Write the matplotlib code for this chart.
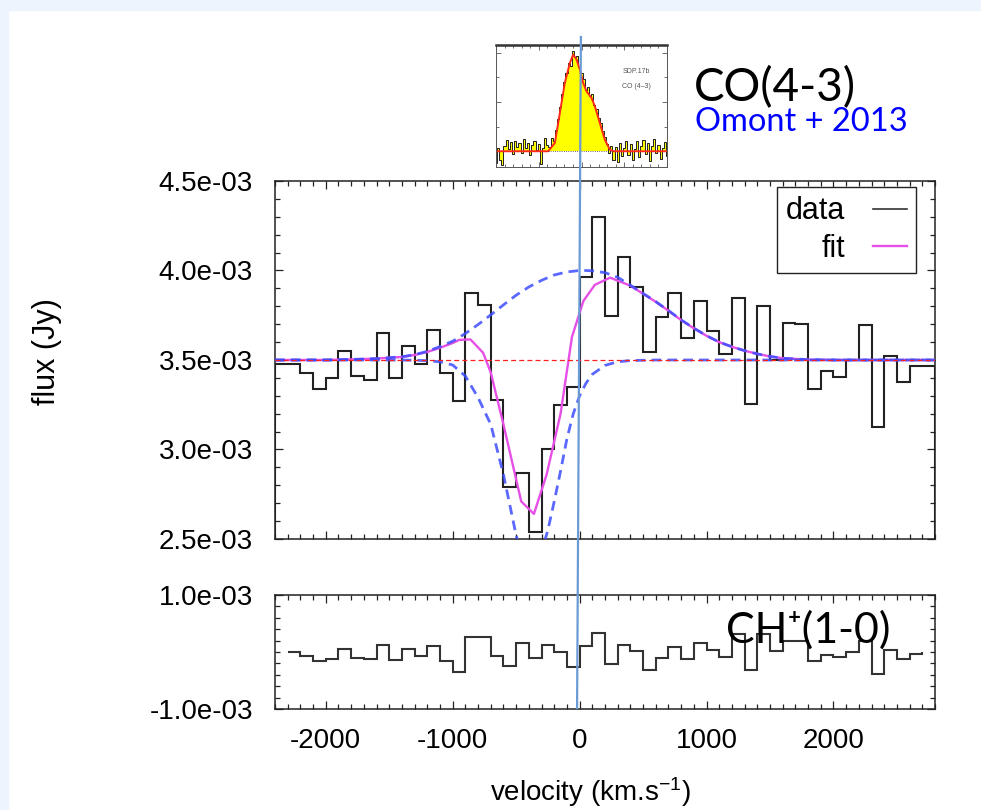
import numpy as np
import matplotlib
matplotlib.use("Agg")
import matplotlib.pyplot as plt
from matplotlib.lines import Line2D
from matplotlib.patches import Rectangle
from matplotlib.ticker import MultipleLocator, FixedLocator, FuncFormatter

plt.rcParams['font.family'] = ['Liberation Sans', 'DejaVu Sans']
plt.rcParams['mathtext.default'] = 'regular'
plt.rcParams['axes.unicode_minus'] = False

W, H = 981, 810

# channel grid (km/s)
chan_width = 100
top_start, top_stop = -2400, 2800
bot_start, bot_stop = -2300, 2700

# flux in units of 1e-3 Jy, one value per 100 km/s channel
top_flux = [3.48, 3.48, 3.43, 3.34, 3.40, 3.55, 3.41, 3.39, 3.65, 3.40,
            3.58, 3.48, 3.67, 3.43, 3.27, 3.875, 3.805, 3.275, 2.79, 2.87,
            2.54, 3.00, 3.25, 3.35, 3.965, 4.30, 3.747, 4.077, 3.908, 3.543,
            3.743, 3.875, 3.622, 3.828, 3.663, 3.532, 3.847, 3.253, 3.80, 3.50,
            3.706, 3.70, 3.337, 3.436, 3.404, 3.50, 3.693, 3.124, 3.521, 3.376,
            3.468, 3.468]
bot_flux = [0.0, -0.07, -0.165, -0.118, 0.059, -0.10, -0.124, 0.129, -0.147, 0.059,
            -0.07, 0.10, -0.159, -0.359, 0.265, 0.265, -0.07, -0.247, 0.159, -0.10,
            0.129, 0.006, -0.265, 0.10, 0.341, -0.218, 0.118, 0.018, -0.312, -0.10,
            0.088, -0.118, 0.159, 0.029, -0.088, 0.324, -0.312, 0.32, 0.012, 0.194,
            0.194, -0.159, -0.059, -0.088, 0.0, 0.194, -0.382, 0.029, -0.118, -0.041]

continuum = 3.5

# model components
em_vel = [-2400, -2000, -1800, -1600, -1400, -1300, -1200, -1100, -1000, -900,
          -800, -700, -600, -500, -400, -300, -200, -100, 0, 50,
          100, 200, 300, 400, 500, 600, 700, 800, 900, 1000,
          1100, 1200, 1300, 1400, 1500, 1600, 1800, 2000, 2800]
em_flux = [3.500, 3.500, 3.503, 3.508, 3.518, 3.530, 3.548, 3.575, 3.605, 3.648,
           3.698, 3.752, 3.808, 3.862, 3.908, 3.945, 3.975, 3.992, 4.000, 4.000,
           3.998, 3.988, 3.962, 3.918, 3.872, 3.826, 3.776, 3.724, 3.678, 3.636,
           3.600, 3.574, 3.552, 3.534, 3.520, 3.510, 3.502, 3.500, 3.500]

abs_vel = [-2400, -1500, -1300, -1200, -1100, -1000, -900, -800, -700, -600,
           -500, -450, -400, -375, -350, -300, -250, -200, -150, -100,
           -50, 0, 50, 100, 200, 300, 400, 600, 2800]
abs_flux = [3.500, 3.500, 3.499, 3.496, 3.490, 3.472, 3.41, 3.29, 3.14, 2.86,
            2.52, 2.40, 2.36, 2.35, 2.36, 2.43, 2.55, 2.71, 2.88, 3.06,
            3.20, 3.30, 3.37, 3.42, 3.47, 3.49, 3.497, 3.500, 3.500]

fit_vel = [-2400, -2000, -1800, -1600, -1400, -1300, -1200, -1100, -1000, -950,
           -860, -760, -700, -600, -460, -360, -260, -150, -60, 30,
           120, 240, 400, 500, 600, 700, 800, 900, 1000, 1100,
           1200, 1300, 1400, 1500, 1600, 1800, 2000, 2800]
fit_flux = [3.500, 3.500, 3.503, 3.508, 3.517, 3.528, 3.545, 3.568, 3.595, 3.612,
            3.615, 3.54, 3.43, 3.14, 2.71, 2.64, 2.86, 3.20, 3.63, 3.83,
            3.92, 3.96, 3.915, 3.870, 3.825, 3.775, 3.723, 3.677, 3.635, 3.600,
            3.574, 3.552, 3.534, 3.520, 3.510, 3.502, 3.500, 3.500]

# inset: CO(4-3) from Omont et al. 2013 (arbitrary flux units)
inset_vel_step = 25
inset_flux = [-0.12, 0.03, -0.09, -0.14, 0.05, 0.11, 0.02, 0.09, -0.03, 0.10,
              0.04, 0.08, -0.02, 0.12, 0.03, 0.08, -0.04, 0.06, 0.10, 0.01,
              0.07, -0.13, 0.03, 0.13, 0.06, 0.04, 0.13, 0.10, 0.22, 0.33,
              0.45, 0.58, 0.70, 0.80, 0.90, 0.87, 1.02, 0.96, 0.97, 0.86,
              0.80, 0.73, 0.62, 0.65, 0.56, 0.58, 0.47, 0.43, 0.34, 0.29,
              0.21, 0.14, 0.07, -0.02, 0.05, -0.09, 0.04, -0.11, 0.08, -0.05,
              0.03, 0.10, -0.04, 0.07, -0.09, 0.02, 0.10, -0.06, 0.05, 0.11,
              -0.03, 0.08, -0.10, 0.05, 0.12, -0.02, 0.06, -0.08, 0.03, 0.09,
              -0.05]
inset_fit_vel = [-1000, -389, -311, -253, -195, -136, -97, -58, -19, 19,
                 58, 117, 156, 214, 272, 331, 370, 1000]
inset_fit_flux = [0.0, 0.0, 0.085, 0.39, 0.695, 0.898, 0.983, 0.932, 0.83, 0.695,
                  0.61, 0.542, 0.458, 0.288, 0.119, 0.017, 0.0, 0.0]

marker_vel_top, marker_vel_bot = 10, -20


def fx(x):
    return x / W


def fy(y):
    return 1 - y / H


sci = FuncFormatter(lambda v, p: f'{v:.1e}')
black = '#222222'
magenta = '#e650e6'
blue = '#3d4dff'

fig = plt.figure(figsize=(W / 100, H / 100), dpi=100)
fig.patches.append(Rectangle((0, 0), fx(8), 1, transform=fig.transFigure,
                             color='#edf4fd', zorder=-10))
fig.patches.append(Rectangle((0, fy(10)), 1, 1, transform=fig.transFigure,
                             color='#edf4fd', zorder=-10))

ax1 = fig.add_axes([fx(275), fy(539), 660 / W, 358 / H])
ax2 = fig.add_axes([fx(275), fy(709), 660 / W, 114 / H])

top_edges = np.arange(top_start, top_stop + 1, chan_width)
bot_edges = np.arange(bot_start, bot_stop + 1, chan_width)

ax1.stairs(np.array(top_flux) * 1e-3, top_edges, color=black, lw=1.5, zorder=2)
ax1.plot(fit_vel, np.array(fit_flux) * 1e-3, color=magenta, lw=1.7, zorder=3)
ax1.plot(em_vel, np.array(em_flux) * 1e-3, color=blue, lw=2.0, alpha=0.85,
         dashes=(3.5, 2.2), zorder=4)
ax1.plot(abs_vel, np.array(abs_flux) * 1e-3, color=blue, lw=2.0, alpha=0.85,
         dashes=(3.5, 2.2), zorder=4)
ax1.axhline(continuum * 1e-3, color='#ff2020', lw=0.9, dashes=(4, 2.5), zorder=5)

ax2.stairs(np.array(bot_flux) * 1e-3, bot_edges, color='#333333', lw=1.5)

ax1.set_xlim(top_start, top_stop)
ax1.set_ylim(2.5e-3, 4.5e-3)
ax2.set_xlim(top_start, top_stop)
ax2.set_ylim(-1e-3, 1e-3)

for ax in (ax1, ax2):
    ax.xaxis.set_major_locator(MultipleLocator(1000))
    ax.xaxis.set_minor_locator(MultipleLocator(100))
    ax.yaxis.set_major_formatter(sci)
    ax.tick_params(which='both', direction='in', top=True, right=True,
                   width=0.9, color=black, labelsize=20)
    ax.tick_params(which='major', length=6)
    ax.tick_params(which='minor', length=3.6)
    ax.tick_params(axis='y', pad=16)
    ax.tick_params(axis='x', pad=14)
    for s in ax.spines.values():
        s.set_linewidth(1.1)
        s.set_color(black)

ax1.yaxis.set_major_locator(MultipleLocator(0.5e-3))
ax1.yaxis.set_minor_locator(MultipleLocator(0.1e-3))
ax1.tick_params(labelbottom=False)
ax2.yaxis.set_major_locator(FixedLocator([-1e-3, 1e-3]))
ax2.yaxis.set_minor_locator(MultipleLocator(0.2e-3))

handles = [Line2D([], [], color='#333333', lw=1.2),
           Line2D([], [], color=magenta, lw=1.7)]
leg = ax1.legend(handles, ['data', 'fit'], loc='upper right',
                 bbox_to_anchor=(0.971, 0.983), markerfirst=False, fontsize=22,
                 frameon=True, fancybox=False, edgecolor=black, framealpha=1,
                 handlelength=1.1, handletextpad=0.9, borderpad=0.3,
                 labelspacing=0.25, borderaxespad=0)
leg.get_frame().set_linewidth(1.0)

fig.text(fx(47), fy(352), 'flux (Jy)', rotation=90, ha='center', va='center',
         fontsize=22)
fig.text(fx(590), fy(792), 'velocity (km.s$^{-1}$)', ha='center', va='center',
         fontsize=20)

# inset spectrum
axi = fig.add_axes([fx(496), fy(167), 171 / W, 122 / H])
inset_vel = np.arange(-1000, 1001, inset_vel_step)
axi.fill_between(inset_vel, inset_flux, 0, step='mid', color='#ffff00', lw=0)
axi.step(inset_vel, inset_flux, where='mid', color='#222222', lw=0.7)
axi.plot(inset_fit_vel, inset_fit_flux, color='#ff2a1a', lw=1.4)
axi.plot([inset_fit_vel[1], inset_fit_vel[-2]], [0, 0], color='#333333',
         lw=0.6, ls=':')
axi.set_xlim(-1000, 1000)
axi.set_ylim(-0.16, 1.08)
axi.xaxis.set_major_locator(MultipleLocator(500))
axi.xaxis.set_minor_locator(MultipleLocator(100))
axi.yaxis.set_major_locator(MultipleLocator(0.5))
axi.yaxis.set_minor_locator(MultipleLocator(0.25))
axi.tick_params(which='both', direction='in', top=True, right=True,
                labelbottom=False, labelleft=False, color='#555555', width=0.6)
axi.tick_params(which='major', length=3.5)
axi.tick_params(which='minor', length=2)
for s in axi.spines.values():
    s.set_linewidth(0.7)
    s.set_color('#555555')
axi.spines['top'].set_linewidth(1.8)
axi.spines['top'].set_color('#333333')
axi.text(0.82, 0.77, 'SDP.17b', transform=axi.transAxes, fontsize=5,
         color='#555555', ha='center')
axi.text(0.82, 0.65, 'CO (4\u20133)', transform=axi.transAxes, fontsize=5,
         color='#555555', ha='center')

# annotations from the slide
fig.text(fx(694), fy(101), 'CO(4-3)', family=['Lato', 'DejaVu Sans'],
         fontsize=33, va='baseline')
fig.text(fx(695), fy(131), 'Omont + 2013', family=['Lato', 'DejaVu Sans'],
         fontsize=23.5, color='#0000ff', va='baseline')
fig.text(fx(726), fy(643), 'CH\u207a(1-0)', family=['Lato', 'DejaVu Sans'],
         fontsize=31, va='baseline', zorder=10)

# velocity marker drawn across the slide
to_fig = fig.transFigure.inverted()
xt = to_fig.transform(ax1.transData.transform((marker_vel_top, 3e-3)))[0]
xb = to_fig.transform(ax1.transData.transform((marker_vel_bot, 3e-3)))[0]
fig.add_artist(Line2D([xt, xb], [fy(37), fy(708)], color='#6b9bd6', lw=1.6,
                      zorder=20))

fig.savefig('out.png', dpi=100)
